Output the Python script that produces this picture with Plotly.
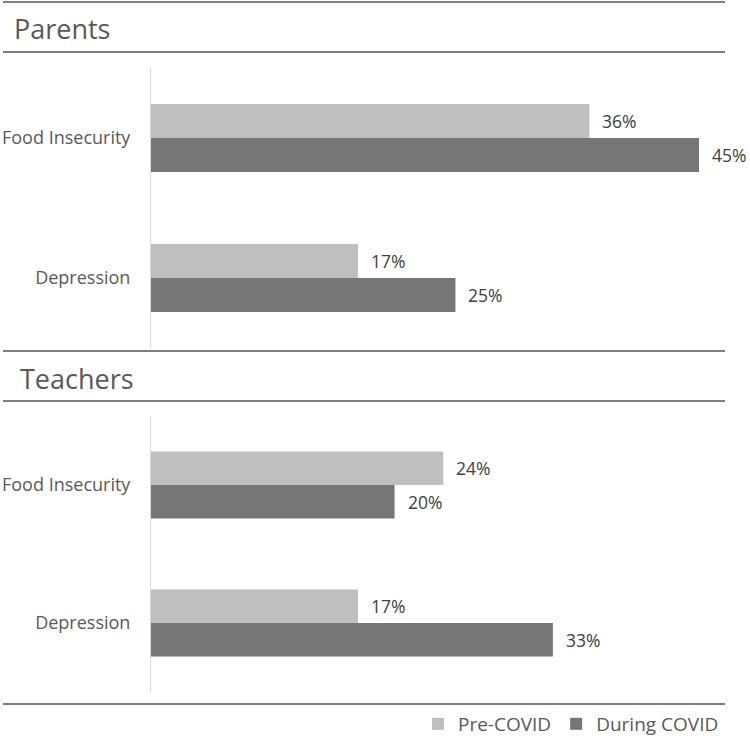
import plotly.graph_objects as go

# data
categories = ["Food Insecurity", "Depression"]
parents_pre = [36, 17]
parents_during = [45, 25]
teachers_pre = [24, 17]
teachers_during = [20, 33]
series_names = ["Pre-COVID", "During COVID"]
panel_titles = ["Parents", "Teachers"]

W, H = 750, 744
PRE_COLOR = "#bfbfbf"
DURING_COLOR = "#767676"
FONT = "Open Sans"
TEXT_COLOR = "#595959"


def py(px):
    # pixel row -> paper y
    return 1 - px / H


fig = go.Figure()

panels = [
    (parents_pre, parents_during, "x", "y"),
    (teachers_pre, teachers_during, "x2", "y2"),
]
for i, (pre, during, xa, ya) in enumerate(panels):
    fig.add_trace(go.Bar(
        y=categories, x=pre, orientation="h", name=series_names[0],
        marker=dict(color=PRE_COLOR, line=dict(width=0)),
        xaxis=xa, yaxis=ya, showlegend=(i == 0), legendgroup="pre",
    ))
    fig.add_trace(go.Bar(
        y=categories, x=during, orientation="h", name=series_names[1],
        marker=dict(color=DURING_COLOR, line=dict(width=0)),
        xaxis=xa, yaxis=ya, showlegend=(i == 0), legendgroup="during",
    ))

# value labels
annotations = []
for pre, during, xa, ya in panels:
    for vals, shift in [(pre, 17), (during, -17)]:
        for cat, v in zip(categories, vals):
            annotations.append(dict(x=v, y=cat, xref=xa, yref=ya, text=f"{v}%",
                                    showarrow=False, xanchor="left", xshift=11, yshift=shift,
                                    font=dict(size=17.5, color="#404040", family=FONT)))

# panel titles
for title, xpx, ypx in zip(panel_titles, [12, 18], [29, 378]):
    annotations.append(dict(x=xpx / W, y=py(ypx), xref="paper", yref="paper", text=title,
                            showarrow=False, xanchor="left", yanchor="middle",
                            font=dict(size=27, color=TEXT_COLOR, family=FONT)))

# horizontal rules
shapes = []
for ypx in [2, 52, 351, 401, 704]:
    shapes.append(dict(type="line", xref="paper", yref="paper",
                       x0=3 / W, x1=725 / W, y0=py(ypx), y1=py(ypx),
                       line=dict(color="#7f7f7f", width=2)))

xdom = [151 / W, 699 / W]
common_x = dict(range=[0, 45], domain=xdom, showgrid=False, zeroline=False,
                showticklabels=False, showline=False)
common_y = dict(autorange="reversed", showgrid=False, zeroline=False, showline=True,
                linecolor="#d9d9d9", linewidth=1, ticks="", ticklabelstandoff=16,
                tickfont=dict(size=18, color=TEXT_COLOR, family=FONT))

fig.update_layout(
    width=W, height=H,
    margin=dict(l=0, r=0, t=0, b=0),
    paper_bgcolor="white", plot_bgcolor="white",
    barmode="group", bargap=0.514, bargroupgap=0,
    font=dict(family=FONT, color=TEXT_COLOR),
    xaxis=dict(anchor="y", **common_x),
    xaxis2=dict(anchor="y2", **common_x),
    yaxis=dict(anchor="x", domain=[py(348), py(68)], **common_y),
    yaxis2=dict(anchor="x2", domain=[py(692), py(416)], **common_y),
    legend=dict(orientation="h", x=724 / W, xanchor="right", y=py(724), yanchor="middle",
                font=dict(size=19, color=TEXT_COLOR, family=FONT),
                itemwidth=30, traceorder="normal", itemclick=False,
                bgcolor="rgba(0,0,0,0)"),
    annotations=annotations,
    shapes=shapes,
)

# page body has a default 8px margin; drop it so the figure sits at (0, 0)
fig.write_html("out.html", config={"displayModeBar": False},
               post_script="document.body.style.margin='0px';")
